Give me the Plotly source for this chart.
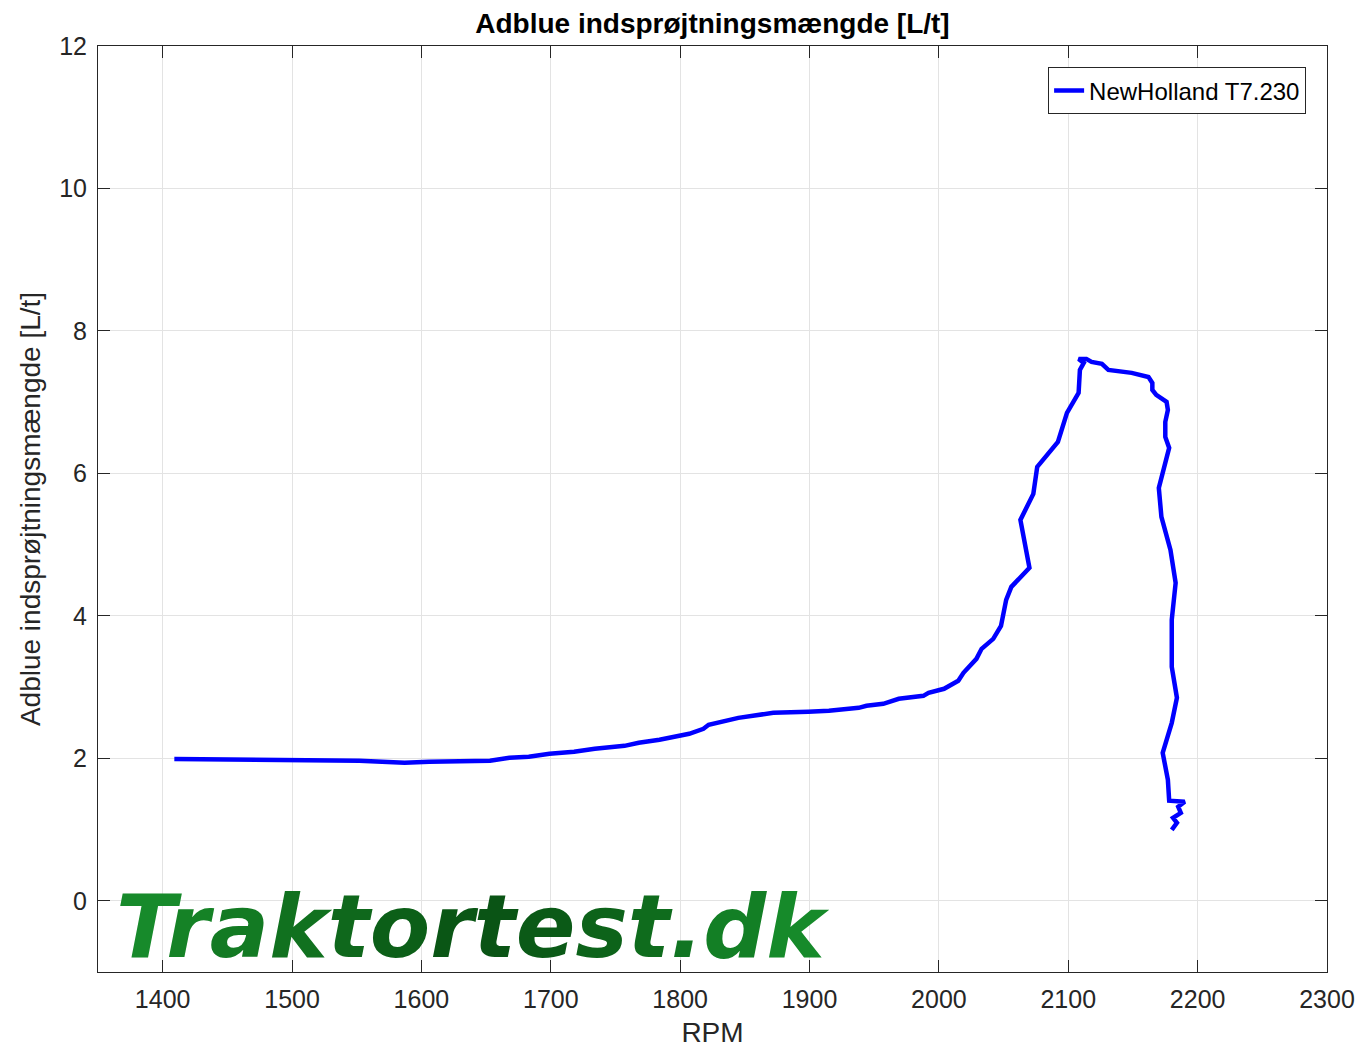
import plotly.graph_objects as go

rpm = [1409, 1498, 1552, 1587, 1606, 1653, 1668, 1683, 1699, 1718, 1734, 1757, 1768, 1784,
       1807, 1818, 1822, 1845, 1861, 1872, 1899, 1915, 1938, 1944, 1957, 1969, 1988, 1992,
       2004, 2015, 2019, 2029, 2033, 2042, 2048, 2052, 2056, 2070, 2063, 2073, 2076, 2092,
       2099, 2108, 2109, 2112, 2108, 2114, 2118, 2126, 2131, 2149, 2162, 2165, 2165, 2168,
       2176, 2177, 2175, 2175, 2178, 2170, 2172, 2179, 2183, 2180, 2180, 2184, 2180, 2173,
       2177, 2178, 2190, 2185, 2187, 2181, 2184, 2180]
adblue = [1.99, 1.965, 1.965, 1.937, 1.951, 1.965, 2.007, 2.021, 2.063, 2.091, 2.133, 2.175,
          2.218, 2.26, 2.344, 2.414, 2.47, 2.568, 2.61, 2.639, 2.653, 2.667, 2.709, 2.737,
          2.765, 2.835, 2.877, 2.919, 2.976, 3.088, 3.2, 3.396, 3.537, 3.677, 3.86, 4.225,
          4.407, 4.674, 5.347, 5.712, 6.091, 6.442, 6.849, 7.13, 7.453, 7.551, 7.607, 7.607,
          7.565, 7.537, 7.453, 7.411, 7.354, 7.27, 7.172, 7.102, 7.003, 6.891, 6.723, 6.512,
          6.358, 5.796, 5.389, 4.926, 4.463, 3.944, 3.284, 2.849, 2.498, 2.077, 1.698, 1.404,
          1.389, 1.319, 1.235, 1.165, 1.095, 0.996]

x_ticks = [1400, 1500, 1600, 1700, 1800, 1900, 2000, 2100, 2200, 2300]
y_ticks = [0, 2, 4, 6, 8, 10, 12]

title = "Adblue indsprøjtningsmængde [L/t]"
series_name = "NewHolland T7.230"
logo = "Traktortest.dk"
logo_colors = ["#178a2b", "#158226", "#137a23", "#11711f", "#0f681c", "#0c5f18", "#0a5615",
               "#0a5415", "#0b5a17", "#0d631a", "#0f6c1d", "#117522", "#137f25", "#168a2a"]

fig = go.Figure()
fig.add_trace(go.Scatter(x=rpm, y=adblue, mode="lines", name=series_name,
                         line=dict(color="#0000ff", width=4.5)))

logo_html = "".join(f"<span style='color:{c}'>{ch}</span>" for ch, c in zip(logo, logo_colors))
fig.add_annotation(x=0.013, y=0.0, xref="paper", yref="paper", xanchor="left", yanchor="bottom",
                   yshift=-8, text=f"<b><i>{logo_html}</i></b>", showarrow=False,
                   font=dict(family="DejaVu Sans", size=88, color="#0f7a1e"))

FONT = "Liberation Sans, Arial"
axis_common = dict(showline=True, linecolor="#262626", linewidth=1, mirror="ticks",
                   ticks="inside", ticklen=12, tickcolor="#262626", showgrid=True,
                   gridcolor="#e3e3e3", gridwidth=1, zeroline=False, automargin=False,
                   ticklabelstandoff=5,
                   tickfont=dict(family=FONT, size=25, color="#262626"))

fig.update_layout(
    width=1348, height=1040,
    margin=dict(l=90, r=29, t=38, b=76),
    paper_bgcolor="white", plot_bgcolor="white",
    title=dict(text=f"<b>{title}</b>", x=0.5, xanchor="center", xref="paper",
               y=1 - 15 / 1040, yanchor="middle",
               font=dict(family=FONT, size=28, color="black")),
    xaxis=dict(range=[1350, 2300], tickvals=x_ticks,
               title=dict(text="RPM", standoff=12,
                          font=dict(family=FONT, size=28, color="#262626")),
               **axis_common),
    yaxis=dict(range=[-1, 12], tickvals=y_ticks,
               title=dict(text="Adblue indsprøjtningsmængde [L/t]", standoff=10,
                          font=dict(family=FONT, size=28, color="#262626")),
               **axis_common),
    showlegend=True,
    legend=dict(x=0.983, y=0.977, xanchor="right", yanchor="top", bgcolor="white",
                bordercolor="#262626", borderwidth=1,
                font=dict(family=FONT, size=24, color="black")),
)

fig.write_html("out.html")
